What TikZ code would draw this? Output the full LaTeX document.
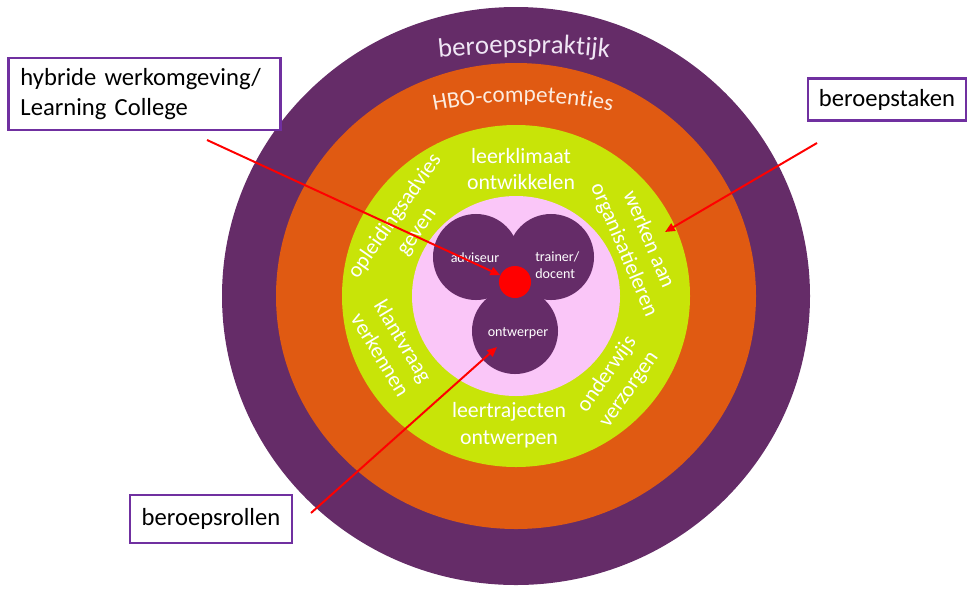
\documentclass[tikz,border=0pt]{standalone}
\usepackage{fontspec}
\setmainfont{Carlito}
\usepackage{tikz}
\usetikzlibrary{positioning}
\usetikzlibrary{arrows.meta}
\usetikzlibrary{decorations.text}
\definecolor{paars}{RGB}{101,44,104}
\definecolor{oranje}{RGB}{224,90,18}
\definecolor{lime}{RGB}{200,228,8}
\definecolor{roze}{RGB}{250,198,248}
\definecolor{kader}{RGB}{112,48,160}
\definecolor{praktijktekst}{RGB}{240,230,245}
\definecolor{hbotekst}{RGB}{252,236,224}
\tikzstyle{labelbox}=[draw=kader,line width=2pt,fill=white,font=\fontsize{17.5}{21}\selectfont,inner sep=0pt]
\tikzstyle{ringtekst}=[text=white,align=center,font=\fontsize{15.5}{19}\selectfont,inner sep=0pt]
\tikzstyle{rolcirkel}=[circle,fill=paars,minimum size=2.15cm,inner sep=0pt]
\tikzstyle{roltekst}=[text=white,font=\fontsize{10}{12}\selectfont,inner sep=0pt]
\tikzstyle{middelpunt}=[circle,fill=red,minimum size=0.8cm,inner sep=0pt]
\tikzstyle{pijl} = [draw,red,line width=1.4pt,-{Triangle[length=7pt,width=6pt]}]
\begin{document}
\begin{tikzpicture}[x=0.025cm,y=0.025cm]
    \useasboundingbox (0,0) rectangle (967,-588);
    % First we draw the rings, outside first
    \coordinate (midden) at (516,-296);
    \foreach \kleur/\rx/\ry in {paars/294/289, oranje/240/233, lime/174/171, roze/104/100}
        \fill[\kleur] (midden) ellipse [x radius=\rx, y radius=\ry];

    % Curved texts in the two outer rings
    \path[decorate,decoration={text along path,text align=center,text color=praktijktekst,
        text={|\fontsize{19}{22}\selectfont|beroepspraktijk}}] (524,-853) ++(100:800) arc (100:80:800);
    \path[decorate,decoration={text along path,text align=center,text color=hbotekst,
        text={|\fontsize{16.5}{19}\selectfont|HBO-competenties}}] (523,-552) ++(105:450) arc (105:75:450);

    % Tasks in the green ring
    \node[ringtekst] (klimaat) at (521,-169) {leerklimaat\\ontwikkelen};
    \node[ringtekst,rotate=-67] (organisatie) at (636,-245) {werken aan\\organisatieleren};
    \node[ringtekst,rotate=55] (onderwijs) at (618,-382) {onderwijs\\verzorgen};
    \node[ringtekst] (trajecten) at (509,-425) {leertrajecten\\ontwerpen};
    \node[ringtekst,rotate=-59] (klantvraag) at (392,-348) {klantvraag\\verkennen};
    \node[ringtekst,rotate=55] (advies) at (406,-224) {opleidingsadvies\\geven};

    % The three roles
    \foreach \pos/\name in {(476,-257)/adv, (551,-257)/trn, (515,-331)/ont}
        \node[rolcirkel] (\name) at \pos {};
    \fill[paars] (adv.center) -- (trn.center) -- (ont.center) -- cycle;
    \node[roltekst] (adviseur) at (475,-258) {adviseur};
    \node[roltekst,align=left,anchor=west] (trainer) at (535,-265) {trainer/\\docent};
    \node[roltekst] (ontwerper) at (518,-333) {ontwerper};
    \node[middelpunt] (kern) at (515,-282) {};

    % Red arrows from the labels
    \coordinate (werkstart) at (207,-140);
    \coordinate (takenstart) at (817,-143);
    \coordinate (takenpunt) at (665,-232);
    \coordinate (rollenstart) at (311,-513);
    \coordinate (rollenpunt) at (497,-347);
    \draw[pijl] (werkstart) -- (kern);
    \draw[pijl] (takenstart) -- (takenpunt);
    \draw[pijl] (rollenstart) -- (rollenpunt);

    % Label boxes
    \node[labelbox,align=left,text width=6.2cm,minimum width=6.78cm,minimum height=1.8cm] (werk) at (144.5,-94) {hybride werkomgeving/\\Learning College};
    \node[labelbox,minimum width=3.95cm,minimum height=1.03cm] (taken) at (887,-99.5) {beroepstaken};
    \node[labelbox,minimum width=4.05cm,minimum height=1.2cm] (rollen) at (211,-519) {beroepsrollen};
\end{tikzpicture}
\end{document}
